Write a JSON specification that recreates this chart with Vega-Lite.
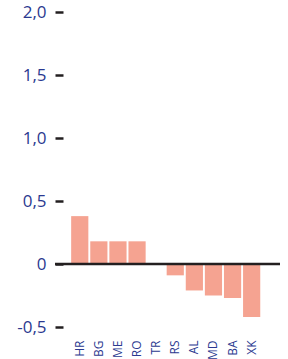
{
  "$schema": "https://vega.github.io/schema/vega-lite/v6.json",
  "autosize": "none",
  "width": 225,
  "height": 315,
  "padding": {"left": 55, "top": 12, "right": 8, "bottom": 32},
  "background": "white",
  "config": {"view": {"stroke": null}, "font": "Open Sans"},
  "data": {"values": [
    {"c": "HR", "v": 0.38},
    {"c": "BG", "v": 0.18},
    {"c": "ME", "v": 0.18},
    {"c": "RO", "v": 0.18},
    {"c": "TR", "v": 0.0},
    {"c": "RS", "v": -0.09},
    {"c": "AL", "v": -0.21},
    {"c": "MD", "v": -0.25},
    {"c": "BA", "v": -0.27},
    {"c": "XK", "v": -0.42}
  ]},
  "layer": [
    {
      "mark": {"type": "bar", "color": "#f5a391"},
      "encoding": {
        "x": {"field": "c", "type": "nominal", "sort": null,
          "scale": {"paddingInner": 0.1, "paddingOuter": 0.94, "align": 0.45},
          "axis": {"title": null, "ticks": false, "domain": false, "labelAngle": -90, "labelColor": "#2b3990", "labelFontSize": 12, "labelPadding": 13, "labelAlign": "right", "labelBaseline": "middle"}},
        "y": {"field": "v", "type": "quantitative",
          "scale": {"domain": [-0.5, 2.0], "nice": false, "zero": false},
          "axis": {"title": null, "values": [-0.5, 0, 0.5, 1, 1.5, 2], "grid": false, "domain": false, "offset": -8, "tickSize": 8, "tickWidth": 2.5, "tickColor": "#231f20", "labelPadding": 9, "labelFontSize": 17, "labelColor": "#2b3990",
            "labelExpr": "datum.value == 0 ? '0' : (datum.value < 0 ? '-' : '') + replace(format(abs(datum.value), '.1f'), '.', ',')"}}
      }
    },
    {
      "data": {"values": [{"z": 0}]},
      "mark": {"type": "rule", "color": "#231f20", "strokeWidth": 2.7},
      "encoding": {"y": {"field": "z", "type": "quantitative"}}
    }
  ]
}
